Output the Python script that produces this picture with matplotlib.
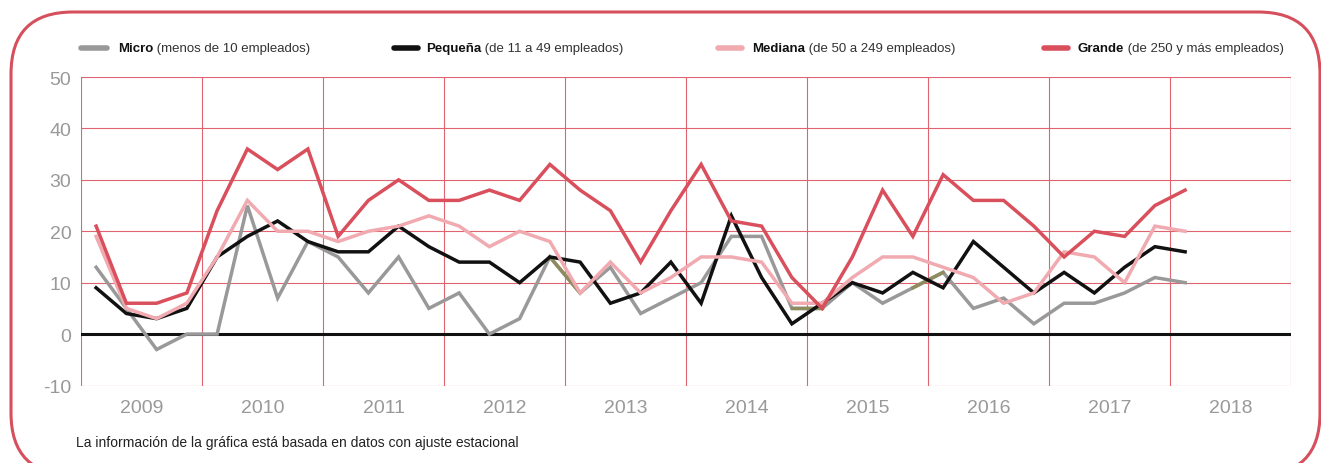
import numpy as np
import matplotlib
matplotlib.use('Agg')
from matplotlib import pyplot as plt, patches, lines, transforms

# quarterly values, 2009 T1 .. 2018 T1
YEARS = list(range(2009, 2019))
micro = [13, 5, -3, 0, 0, 25, 7, 18, 15, 8, 15, 5, 8, 0, 3, 15, 8, 13, 4, 7,
         10, 19, 19, 5, 5, 10, 6, 9, 12, 5, 7, 2, 6, 6, 8, 11, 10]
pequena = [9, 4, 3, 5, 15, 19, 22, 18, 16, 16, 21, 17, 14, 14, 10, 15, 14, 6, 8, 14,
           6, 23, 11, 2, 6, 10, 8, 12, 9, 18, 13, 8, 12, 8, 13, 17, 16]
mediana = [19, 5, 3, 6, 15, 26, 20, 20, 18, 20, 21, 23, 21, 17, 20, 18, 8, 14, 8, 11,
           15, 15, 14, 6, 6, 11, 15, 15, 13, 11, 6, 8, 16, 15, 10, 21, 20]
grande = [21, 6, 6, 8, 24, 36, 32, 36, 19, 26, 30, 26, 26, 28, 26, 33, 28, 24, 14, 24,
          33, 22, 21, 11, 5, 15, 28, 19, 31, 26, 26, 21, 15, 20, 19, 25, 28]
# segments of the micro line that show up olive in the original
olive_segments = [15, 23, 27]

names = ['Micro', 'Pequeña', 'Mediana', 'Grande']
notes = [' (menos de 10 empleados)', ' (de 11 a 49 empleados)',
         ' (de 50 a 249 empleados)', ' (de 250 y más empleados)']
series = [micro, pequena, mediana, grande]

COLORS = ['#999999', '#111111', '#f0aab0', '#d94f5c']
OLIVE = '#8e8b5f'
GRID = '#e06370'
BORDER = '#d64f5d'
TICK = '#999999'
FONT = 'Liberation Sans'

W, H = 1321, 464
plt.rcParams['font.family'] = FONT
plt.rcParams['axes.unicode_minus'] = False

x = YEARS[0] + (np.arange(len(micro)) + 0.5) / 4

fig = plt.figure(figsize=(W / 100, H / 100), dpi=100)
ax = fig.add_axes([81 / W, (H - 386.5) / H, 1210 / W, 308.5 / H])
ax.set_xlim(YEARS[0], YEARS[-1] + 1)
ax.set_ylim(-10, 50)
for s in ax.spines.values():
    s.set_visible(False)

for v in range(-10, 51, 10):
    ax.axhline(v, color=GRID, lw=0.8, zorder=1)
for yr in YEARS + [YEARS[-1] + 1]:
    ax.axvline(yr, color=GRID, lw=0.8, zorder=1)
ax.axhline(0, color='#111111', lw=2.2, zorder=2)

ax.set_yticks(range(-10, 51, 10))
ax.set_xticks([y + 0.5 for y in YEARS], [str(y) for y in YEARS])
ax.tick_params(axis='y', length=0, labelsize=14, labelcolor=TICK, pad=7)
ax.tick_params(axis='x', length=0, labelsize=14, labelcolor=TICK, pad=10)

for i, (vals, c) in enumerate(zip(series, COLORS)):
    ax.plot(x, vals, color=c, lw=2.5, zorder=3 + i, solid_joinstyle='miter')
    if i == 0:
        for k in olive_segments:
            ax.plot(x[k:k + 2], vals[k:k + 2], color=OLIVE, lw=2.5, zorder=3.5)

# legend, drawn by hand so the name can be bold
renderer = fig.canvas.get_renderer()
LEG_Y = 1 - 49 / H
for (x0, x1, tx), name, note, c in zip([(81, 107, 118), (394, 418, 426),
                                        (718, 742, 752), (1044, 1068, 1078)],
                                       names, notes, COLORS):
    fig.add_artist(lines.Line2D([x0 / W, x1 / W], [LEG_Y, LEG_Y], transform=fig.transFigure,
                                color=c, lw=4, solid_capstyle='round'))
    t = fig.text(tx / W, LEG_Y, name, fontsize=9.5, fontweight='bold',
                 color='#111111', va='center')
    bb = t.get_window_extent(renderer)
    fig.text(bb.x1 / W, LEG_Y, note, fontsize=9.5, color='#333333', va='center')

fig.text(76 / W, 1 - 443 / H, 'La información de la gráfica está basada en datos con ajuste estacional',
         fontsize=10, color='#222222', va='center')

# rounded frame, its bottom edge sits below the picture
frame = patches.FancyBboxPatch((11, -12), 1309, 463, boxstyle='round,pad=0,rounding_size=62',
                               transform=transforms.IdentityTransform(), fill=False,
                               edgecolor=BORDER, lw=2.2)
fig.add_artist(frame)

fig.savefig('out.png', dpi=100)
